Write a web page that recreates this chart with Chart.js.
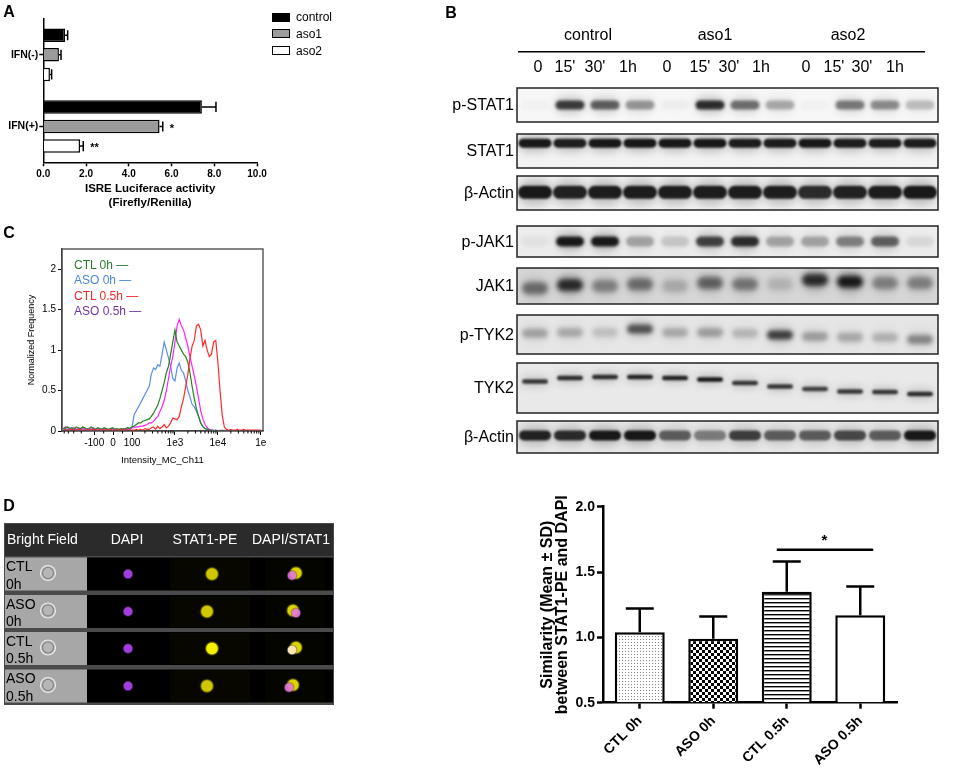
<!DOCTYPE html>
<html>
<head>
<meta charset="utf-8">
<script src="https://cdn.jsdelivr.net/npm/chart.js@4.4.1/dist/chart.umd.min.js"></script>
<style>
  body { margin: 0; background: #fff; font-family: Arial, "Liberation Sans", sans-serif; }
  #page { position: relative; width: 957px; height: 774px; overflow: hidden; }
  canvas { position: absolute; }
  .t { position: absolute; white-space: nowrap; line-height: 1; color: #000; }
  .sw { position: absolute; box-sizing: border-box; width: 18px; height: 9px; }
</style>
</head>
<body>
<div id="page">
  <canvas id="art" width="957" height="774" style="left:0;top:0"></canvas>
  <canvas id="chartA" width="340" height="210" style="left:0;top:0"></canvas>
  <canvas id="chartC" width="280" height="226" style="left:0;top:240px"></canvas>
  <canvas id="chartD" width="417" height="304" style="left:540px;top:470px"></canvas>
</div>
<script>
// ---------- Panel A: ISRE luciferase ----------
const groupsA = ["IFN(-)", "IFN(+)"];
const controlA = [1.02, 7.42];
const controlErrA = [0.12, 0.66];
const aso1A = [0.73, 5.44];
const aso1ErrA = [0.1, 0.15];
const aso2A = [0.31, 1.72];
const aso2ErrA = [0.08, 0.15];
const aso1StarsA = ["", "*"];
const aso2StarsA = ["", "**"];

// ---------- Panel C: flow histogram (bins on a logicle axis, 0.05 decade wide) ----------
const histStartU = 0.4;
const histStepU = 0.05;
const ctl0h = [0.03,0.04,0.05,0.03,0.04,0.02,0.05,0.04,0.03,0.05,0.04,0.02,0.03,0.05,0.03,0.02,
  0.04,0.03,0.02,0.04,0.03,0.02,0.03,0.04,0.02,0.03,0.02,0.03,0.02,0.03,0.04,0.03,
  0.05,0.06,0.08,0.1,0.1,0.12,0.13,0.14,0.15,0.18,0.22,0.27,0.32,0.4,0.5,0.6,
  0.72,0.8,0.95,1.1,1.25,1.1,1.05,1.0,0.95,0.92,0.85,0.72,0.55,0.4,0.28,0.18,
  0.1,0.05,0.03,0.02,0.01,0.01,0,0.01,0,0,0.01,0,0,0,0.01,0,0,0,0,0,0,0,0,0,0,0,0,0,0];
const aso0h = [0.02,0.03,0.02,0.01,0.03,0.02,0.02,0.01,0.02,0.03,0.02,0.01,0.02,0.02,0.01,0.02,
  0.03,0.02,0.01,0.02,0.02,0.01,0.02,0.01,0.02,0.02,0.01,0.02,0.01,0.02,0.02,0.03,
  0.05,0.2,0.25,0.3,0.35,0.4,0.45,0.5,0.55,0.7,0.78,0.76,0.82,0.8,0.95,1.1,
  1.0,0.9,0.8,0.65,0.62,0.78,0.84,0.75,0.72,0.62,0.5,0.42,0.33,0.3,0.24,0.18,
  0.1,0.06,0.03,0.02,0.01,0.01,0,0.01,0,0,0,0.01,0,0,0,0,0,0,0,0,0,0,0,0,0,0,0,0,0];
const ctl05h = [0.01,0.02,0.01,0.01,0.02,0.01,0.01,0.02,0.01,0.01,0.01,0.02,0.01,0.01,0.02,0.01,
  0.01,0.01,0.02,0.01,0.01,0.01,0.02,0.01,0.01,0.01,0.01,0.02,0.01,0.01,0.01,0.01,
  0.01,0.01,0.02,0.01,0.02,0.01,0.03,0.02,0.02,0.04,0.05,0.02,0.06,0.03,0.05,0.08,
  0.04,0.06,0.1,0.16,0.15,0.14,0.18,0.3,0.4,0.55,0.7,0.9,1.05,1.12,1.3,1.32,
  1.25,1.05,1.12,1.0,0.92,0.95,1.1,1.12,0.85,0.5,0.2,0.05,0.02,
  0.01,0.02,0.01,0.01,0.02,0.01,0.01,0.02,0.01,0.01,0.01,0.01,0.01,0.01,0.01,0.01];
const aso05h = [0.03,0.05,0.04,0.02,0.03,0.04,0.02,0.03,0.02,0.04,0.03,0.02,0.03,0.02,0.04,0.02,
  0.03,0.02,0.02,0.03,0.02,0.01,0.02,0.03,0.02,0.01,0.02,0.02,0.03,0.02,0.03,0.02,
  0.04,0.04,0.05,0.05,0.06,0.06,0.07,0.08,0.1,0.1,0.12,0.15,0.18,0.24,0.3,0.38,
  0.5,0.65,0.8,0.92,1.1,1.3,1.38,1.3,1.25,1.15,1.05,0.92,0.8,0.68,0.55,0.4,
  0.25,0.15,0.08,0.04,0.02,0.01,0.01,0,0,0.01,0,0,0,0,0,0,0,0,0,0,0,0,0,0,0,0,0,0,0];
const tickValuesC = [-100, 0, 100, 1e3, 1e4, 1e5];
const tickLabelsC = ["-100", "0", "100", "1e3", "1e4", "1e"];
const minorValuesC = [-500, -400, -300, -200, -50, 50,
  200, 300, 400, 500, 600, 700, 800, 900,
  2000, 3000, 4000, 5000, 6000, 7000, 8000, 9000,
  20000, 30000, 40000, 50000, 60000, 70000, 80000, 90000];
const legendC = ["CTL 0h —", "ASO 0h —", "CTL 0.5h —", "ASO 0.5h —"];

// ---------- Panel D: colocalisation similarity ----------
const groupsD = ["CTL 0h", "ASO 0h", "CTL 0.5h", "ASO 0.5h"];
const meanD = [1.04, 0.99, 1.35, 1.17];
const sdD = [0.18, 0.17, 0.23, 0.22];
const sigPairD = [2, 3];
const sigLevelD = 1.67;

// ---------- Panel B: western blot band strength (0 = none, 1 = saturated) ----------
const groupsB = ["control", "aso1", "aso2"];
const timesB = ["0", "15'", "30'", "1h", "0", "15'", "30'", "1h", "0", "15'", "30'", "1h"];
const pSTAT1Level = [0.02, 0.78, 0.62, 0.38, 0.03, 0.85, 0.55, 0.3, 0.02, 0.5, 0.42, 0.22];
const stat1Level = [0.95, 0.92, 0.95, 0.95, 0.95, 0.95, 0.93, 0.93, 0.95, 0.93, 0.92, 0.93];
const actinLevel = [0.95, 0.9, 0.93, 0.93, 0.93, 0.93, 0.93, 0.92, 0.85, 0.9, 0.93, 0.95];
const pJAK1Level = [0.04, 0.95, 0.95, 0.3, 0.15, 0.75, 0.85, 0.3, 0.3, 0.45, 0.6, 0.08];
const jak1Level = [0.5, 0.85, 0.4, 0.5, 0.2, 0.55, 0.45, 0.15, 0.85, 0.95, 0.4, 0.4];
const pTYK2Level = [0.28, 0.25, 0.15, 0.65, 0.25, 0.3, 0.2, 0.75, 0.3, 0.25, 0.22, 0.4];
const tyk2Level = [0.8, 0.85, 0.85, 0.9, 0.9, 0.95, 0.8, 0.8, 0.75, 0.8, 0.8, 0.85];
const actin2Level = [0.9, 0.85, 0.95, 0.95, 0.6, 0.45, 0.75, 0.6, 0.6, 0.7, 0.6, 0.95];

// ---------- Panel D images ----------
const cellRows = [["CTL", "0h"], ["ASO", "0h"], ["CTL", "0.5h"], ["ASO", "0.5h"]];
const cellHeaders = ["Bright Field", "DAPI", "STAT1-PE", "DAPI/STAT1"];

const FONT = 'Arial, "Liberation Sans", sans-serif';
Chart.defaults.font.family = FONT;
Chart.defaults.color = "#000";

const page = document.getElementById("page");
function text(str, x, y, css, align) {
  const d = document.createElement("div");
  d.className = "t";
  d.textContent = str;
  d.style.cssText += css + ";left:" + x + "px;top:" + y + "px";
  const tx = align === "right" ? "-100%" : align === "left" ? "0" : "-50%";
  d.style.transform = "translate(" + tx + ",-50%)";
  page.appendChild(d);
  return d;
}

// error bars (plus optional stars) drawn from the bar ends through the value scale
const errorBars = {
  id: "errorBars",
  afterDatasetsDraw(chart, args, opts) {
    const ctx = chart.ctx;
    const horizontal = chart.options.indexAxis === "y";
    const vScale = horizontal ? chart.scales.x : chart.scales.y;
    chart.data.datasets.forEach((ds, di) => {
      if (!ds.errors) return;
      const meta = chart.getDatasetMeta(di);
      ctx.save();
      ctx.strokeStyle = "#000";
      ctx.lineWidth = opts.width;
      meta.data.forEach((bar, i) => {
        const end = vScale.getPixelForValue(ds.data[i] + ds.errors[i]);
        ctx.beginPath();
        if (horizontal) {
          const cap = (bar.height * opts.cap) / 2;
          ctx.moveTo(bar.x, bar.y);
          ctx.lineTo(end, bar.y);
          ctx.moveTo(end, bar.y - cap);
          ctx.lineTo(end, bar.y + cap);
        } else {
          const cap = (bar.width * opts.cap) / 2;
          ctx.moveTo(bar.x, bar.y);
          ctx.lineTo(bar.x, end);
          ctx.moveTo(bar.x - cap, end);
          ctx.lineTo(bar.x + cap, end);
        }
        ctx.stroke();
        if (ds.stars && ds.stars[i]) {
          ctx.fillStyle = "#000";
          ctx.font = "bold 11px " + FONT;
          ctx.textAlign = "left";
          ctx.textBaseline = "middle";
          ctx.fillText(ds.stars[i], end + 7, bar.y + 2);
        }
      });
      ctx.restore();
    });
  },
};

// ---------- Chart A ----------
new Chart(document.getElementById("chartA"), {
  type: "bar",
  data: {
    labels: groupsA,
    datasets: [
      { label: "control", data: controlA, errors: controlErrA, backgroundColor: "#000" },
      { label: "aso1", data: aso1A, errors: aso1ErrA, stars: aso1StarsA, backgroundColor: "#9b9b9b" },
      { label: "aso2", data: aso2A, errors: aso2ErrA, stars: aso2StarsA, backgroundColor: "#fff" },
    ],
  },
  options: {
    indexAxis: "y",
    responsive: false,
    animation: false,
    devicePixelRatio: 1,
    layout: { padding: { top: 19, right: 83, left: 0, bottom: 0 } },
    datasets: { bar: { borderColor: "#000", borderWidth: 1.5, categoryPercentage: 0.82, barPercentage: 0.69 } },
    scales: {
      x: {
        type: "linear", min: 0, max: 10,
        ticks: { stepSize: 2, callback: (v) => v.toFixed(1), font: { size: 10, weight: "bold" }, padding: 2 },
        grid: { drawOnChartArea: false, color: "#000", tickLength: 4, tickWidth: 1.5 },
        border: { color: "#000", width: 1.5 },
        title: { display: true, text: ["ISRE Luciferace activity", "(Firefly/Renilla)"], font: { size: 11.5, weight: "bold", lineHeight: 1.2 }, padding: 0 },
        afterFit: (s) => { s.height = 47.7; },
      },
      y: {
        type: "category",
        ticks: { font: { size: 10.5, weight: "bold" }, padding: 1 },
        grid: { drawOnChartArea: false, offset: false, color: "#000", tickLength: 4, tickWidth: 1.5 },
        border: { color: "#000", width: 1.5 },
        afterFit: (s) => { s.width = 43.3; },
      },
    },
    plugins: { legend: { display: false }, tooltip: { enabled: false }, errorBars: { width: 1.5, cap: 0.75 } },
  },
  plugins: [errorBars],
});

// legend A
const swatchA = [
  "background:#000",
  "background:#9b9b9b;border:1px solid #000",
  "background:#fff;border:1.5px solid #000",
];
["control", "aso1", "aso2"].forEach((name, i) => {
  const y = 17 + i * 16.8;
  const s = document.createElement("div");
  s.className = "sw";
  s.style.cssText = swatchA[i] + ";left:272px;top:" + (y - 4.5) + "px";
  page.appendChild(s);
  text(name, 296, y, "font-size:12px", "left");
});

// ---------- Chart C ----------
function toU(v) {
  if (v >= 100) return Math.log10(v);
  if (v <= -100) return 3.12 - Math.log10(-v);
  return 1.56 + v * 0.0044;
}
const histPoints = (arr) => arr.map((y, i) => ({ x: histStartU + i * histStepU, y }));

const frameAndMinor = {
  id: "frameAndMinor",
  afterDraw(chart) {
    const { ctx, chartArea: a, scales } = chart;
    ctx.save();
    ctx.strokeStyle = "#444";
    ctx.lineWidth = 1.3;
    ctx.strokeRect(a.left, a.top, a.right - a.left, a.bottom - a.top);
    ctx.strokeStyle = "#000";
    ctx.lineWidth = 1;
    minorValuesC.forEach((v) => {
      const px = scales.x.getPixelForValue(toU(v));
      if (px < a.left || px > a.right) return;
      ctx.beginPath();
      ctx.moveTo(px, a.bottom);
      ctx.lineTo(px, a.bottom + 2.5);
      ctx.stroke();
    });
    ctx.restore();
  },
};

new Chart(document.getElementById("chartC"), {
  type: "line",
  data: {
    datasets: [
      { label: "CTL 0.5h", data: histPoints(ctl05h), borderColor: "#ff2a2a" },
      { label: "CTL 0h", data: histPoints(ctl0h), borderColor: "#1e861e" },
      { label: "ASO 0.5h", data: histPoints(aso05h), borderColor: "#ff22ff" },
      { label: "ASO 0h", data: histPoints(aso0h), borderColor: "#5b8ee8" },
    ],
  },
  options: {
    responsive: false,
    animation: false,
    devicePixelRatio: 1,
    layout: { padding: { top: 9, right: 17, left: 0, bottom: 0 } },
    elements: { point: { radius: 0 }, line: { borderWidth: 1.2, tension: 0 } },
    scales: {
      x: {
        type: "linear", min: 0.37, max: 5.05,
        afterBuildTicks: (s) => { s.ticks = tickValuesC.map((v) => ({ value: toU(v) })); },
        ticks: { callback: (v, i) => tickLabelsC[i], font: { size: 10 }, autoSkip: false, maxRotation: 0, padding: 2 },
        grid: { drawOnChartArea: false, color: "#000", tickLength: 4 },
        border: { color: "#444", width: 1.3 },
        title: { display: true, text: "Intensity_MC_Ch11", font: { size: 9.5 }, padding: 0 },
        afterFit: (s) => { s.height = 35; },
      },
      y: {
        type: "linear", min: 0, max: 2.25,
        afterBuildTicks: (s) => { s.ticks = [0, 0.5, 1, 1.5, 2].map((v) => ({ value: v })); },
        ticks: { callback: (v) => String(v), font: { size: 10 }, padding: 2 },
        grid: { drawOnChartArea: false, color: "#000", tickLength: 4 },
        border: { color: "#444", width: 1.3 },
        title: { display: true, text: "Normalized Frequency", font: { size: 9 }, padding: { top: 26 } },
        afterFit: (s) => { s.width = 62; },
      },
    },
    plugins: { legend: { display: false }, tooltip: { enabled: false } },
  },
  plugins: [frameAndMinor],
});

const legendColorsC = ["#2b7a2b", "#4b84d8", "#ee2a2a", "#6f35a5"];
legendC.forEach((s, i) => text(s, 74, 265 + i * 15.3, "font-size:12px;color:" + legendColorsC[i], "left"));

// ---------- Chart D ----------
const ctxD = document.getElementById("chartD").getContext("2d");
function pattern(size, draw) {
  const c = document.createElement("canvas");
  c.width = c.height = size;
  const g = c.getContext("2d");
  g.fillStyle = "#fff";
  g.fillRect(0, 0, size, size);
  draw(g);
  return ctxD.createPattern(c, "repeat");
}
const dotFill = pattern(3, (g) => { g.fillStyle = "#888"; g.fillRect(1, 1, 1, 1); });
const checkFill = pattern(6, (g) => { g.fillStyle = "#000"; g.fillRect(0, 0, 3, 3); g.fillRect(3, 3, 3, 3); });
const stripeFill = pattern(4, (g) => { g.fillStyle = "#000"; g.fillRect(0, 0, 4, 1.4); });

const significance = {
  id: "significance",
  afterDatasetsDraw(chart) {
    const { ctx, scales } = chart;
    const bars = chart.getDatasetMeta(0).data;
    const a = bars[sigPairD[0]], b = bars[sigPairD[1]];
    const y = scales.y.getPixelForValue(sigLevelD);
    ctx.save();
    ctx.strokeStyle = "#000";
    ctx.lineWidth = 2.5;
    ctx.beginPath();
    ctx.moveTo(a.x - 10, y);
    ctx.lineTo(b.x + 13, y);
    ctx.stroke();
    ctx.fillStyle = "#000";
    ctx.font = "bold 15px " + FONT;
    ctx.textAlign = "center";
    ctx.textBaseline = "middle";
    ctx.fillText("*", (a.x + b.x) / 2 + 1, y - 9);
    ctx.restore();
  },
};

new Chart(ctxD, {
  type: "bar",
  data: {
    labels: groupsD,
    datasets: [{
      data: meanD,
      errors: sdD,
      base: 0.5,
      backgroundColor: [dotFill, checkFill, stripeFill, "#fff"],
      borderColor: "#000",
      borderWidth: 2.5,
      borderSkipped: "bottom",
      categoryPercentage: 1,
      barPercentage: 0.68,
    }],
  },
  options: {
    responsive: false,
    animation: false,
    devicePixelRatio: 1,
    layout: { padding: { top: 36.7, right: 60, left: 0, bottom: 0 } },
    scales: {
      x: {
        type: "category",
        ticks: { font: { size: 14, weight: "bold" }, minRotation: 45, maxRotation: 45, padding: 4 },
        grid: { drawOnChartArea: false, offset: false, color: "#000", tickLength: 6, tickWidth: 2.5 },
        border: { color: "#000", width: 2.5 },
        afterFit: (s) => { s.height = 71.3; },
      },
      y: {
        type: "linear", min: 0.5, max: 2.0,
        ticks: { stepSize: 0.5, callback: (v) => v.toFixed(1), font: { size: 14, weight: "bold" }, padding: 2 },
        grid: { drawOnChartArea: false, color: "#000", tickLength: 6, tickWidth: 2.5 },
        border: { color: "#000", width: 2.5 },
        title: { display: true, text: ["Similarity (Mean \u00b1 SD)", "between STAT1-PE and DAPI"], font: { size: 16, weight: "bold", lineHeight: 0.95 }, padding: 0 },
        afterFit: (s) => { s.width = 63; },
      },
    },
    plugins: { legend: { display: false }, tooltip: { enabled: false }, errorBars: { width: 2.5, cap: 0.56 } },
  },
  plugins: [errorBars, significance],
});

// ---------- Panel B blots and panel D images (picture parts) ----------
const art = document.getElementById("art").getContext("2d");
const laneX0 = 535, laneDX = 35, boxLeft = 517, boxRight = 938;
const blotRows = [
  { name: "p-STAT1", top: 88, bottom: 122, level: pSTAT1Level, pos: 0.5, th: 9, bw: 29, bg: "#f7f7f7", blur: 1.5 },
  { name: "STAT1", top: 134, bottom: 168, level: stat1Level, pos: 0.27, th: 9, bw: 33, bg: "#f3f3f3", blur: 1.2 },
  { name: "\u03b2-Actin", top: 176, bottom: 210, level: actinLevel, pos: 0.48, th: 13, bw: 34, bg: "#f1f1f1", blur: 1.2 },
  { name: "p-JAK1", top: 226, bottom: 257, level: pJAK1Level, pos: 0.5, th: 10, bw: 28, bg: "#ededed", blur: 1.6 },
  { name: "JAK1", top: 268, bottom: 304, level: jak1Level, pos: [0.56, 0.47, 0.5, 0.45, 0.5, 0.42, 0.45, 0.45, 0.33, 0.38, 0.42, 0.42], th: 12, bw: 26, bg: "#d6d6d6", blur: 2.5 },
  { name: "p-TYK2", top: 315, bottom: 354, level: pTYK2Level, pos: [0.47, 0.45, 0.45, 0.36, 0.45, 0.45, 0.47, 0.51, 0.55, 0.57, 0.58, 0.63], th: 9, bw: 26, bg: "#e6e6e6", blur: 2.2 },
  { name: "TYK2", top: 363, bottom: 413, level: tyk2Level, pos: [0.37, 0.3, 0.28, 0.28, 0.3, 0.33, 0.4, 0.47, 0.52, 0.57, 0.58, 0.62], th: 4.5, bw: 26, bg: "#e9e9e9", blur: 0.8 },
  { name: "\u03b2-Actin", top: 421, bottom: 453, level: actin2Level, pos: 0.45, th: 10, bw: 32, bg: "#e8e8e8", blur: 1.3 },
];
blotRows.forEach((r) => {
  const h = r.bottom - r.top;
  art.fillStyle = r.bg;
  art.fillRect(boxLeft, r.top, boxRight - boxLeft, h);
  art.save();
  art.beginPath();
  art.rect(boxLeft, r.top, boxRight - boxLeft, h);
  art.clip();
  r.level.forEach((d, i) => {
    const cx = laneX0 + laneDX * i;
    const cy = r.top + h * (Array.isArray(r.pos) ? r.pos[i] : r.pos);
    art.filter = "blur(4px)";
    art.fillStyle = "rgba(30,30,30," + d * 0.25 + ")";
    art.beginPath();
    art.roundRect(cx - r.bw / 2, cy - r.th, r.bw, r.th * 2, r.th);
    art.fill();
    art.filter = "blur(" + r.blur + "px)";
    art.fillStyle = "rgba(15,15,15," + d + ")";
    art.beginPath();
    art.roundRect(cx - r.bw / 2, cy - r.th / 2, r.bw, r.th, r.th / 2);
    art.fill();
  });
  art.restore();
  art.filter = "none";
  art.strokeStyle = "#222";
  art.lineWidth = 1.5;
  art.strokeRect(boxLeft, r.top, boxRight - boxLeft, h);
  text(r.name, 514, r.top + h / 2, "font-size:16px", "right");
});
art.fillStyle = "#000";
art.fillRect(518, 51, 407, 1.5);
[588, 715, 848].forEach((x, i) => text(groupsB[i], x, 35, "font-size:16px"));
[538, 565, 595, 628, 667, 700, 729, 761, 806, 834, 862, 895].forEach((x, i) => text(timesB[i], x, 67, "font-size:16px"));

// panel D image grid
art.fillStyle = "#4a4a4a";
art.fillRect(4, 523, 330, 182);
art.fillStyle = "#2b2b2b";
art.fillRect(5, 524, 328, 32);
[46, 127, 205, 291].forEach((x, i) => {
  text(cellHeaders[i], i === 0 ? 7 : x, 539, "font-size:14px;color:#fff", i === 0 ? "left" : "center");
});
const rowTops = [557.5, 595, 632, 669.5];
function blob(x, y, r, color, glow) {
  const g = art.createRadialGradient(x, y, 0, x, y, r * (glow || 1.4));
  g.addColorStop(0, color);
  g.addColorStop(0.65, color);
  g.addColorStop(1, "rgba(0,0,0,0)");
  art.fillStyle = g;
  art.beginPath();
  art.arc(x, y, r * (glow || 1.4), 0, Math.PI * 2);
  art.fill();
}
cellRows.forEach((lab, i) => {
  const top = rowTops[i], cy = top + 16.5;
  art.fillStyle = "#a7a7a7";
  art.fillRect(5, top, 82, 33);
  art.fillStyle = "#000";
  art.fillRect(87, top, 246, 33);
  art.fillStyle = "rgba(200,200,200,0.5)";
  art.beginPath();
  art.arc(48, cy - 1, 7.5, 0, Math.PI * 2);
  art.fill();
  art.strokeStyle = "rgba(240,240,240,0.9)";
  art.lineWidth = 1.2;
  art.stroke();
  art.strokeStyle = "rgba(80,80,80,0.5)";
  art.beginPath();
  art.arc(48, cy - 1, 5.5, 0, Math.PI * 2);
  art.stroke();
  text(lab[0], 6, top + 8.5, "font-size:14px", "left");
  text(lab[1], 6, top + 26, "font-size:14px", "left");
  art.fillStyle = "rgba(60,60,0,0.12)";
  art.fillRect(170, top + 1, 80, 31);
  art.fillStyle = "rgba(60,60,0,0.08)";
  art.fillRect(265, top + 1, 60, 31);
  blob(128, cy, 4.3, "#a13ee0");
  blob(212 - (i % 2) * 5, cy, 5.8, i === 2 ? "#f4f000" : "#cfc800");
  blob(296 - (i % 2) * 3, cy - 1, 5.6, "#dcd400");
  blob(292 - (i % 2) * 3 + (i === 1 ? 7 : 0), cy + 1.5, 4.2, i === 2 ? "#ffe6b8" : "rgba(225,120,220,0.9)");
});

// panel letters
text("A", 9, 12, "font-size:16px;font-weight:bold");
text("B", 451, 13, "font-size:16px;font-weight:bold");
text("C", 9, 233, "font-size:16px;font-weight:bold");
text("D", 9, 506, "font-size:16px;font-weight:bold");
</script>
</body>
</html>
